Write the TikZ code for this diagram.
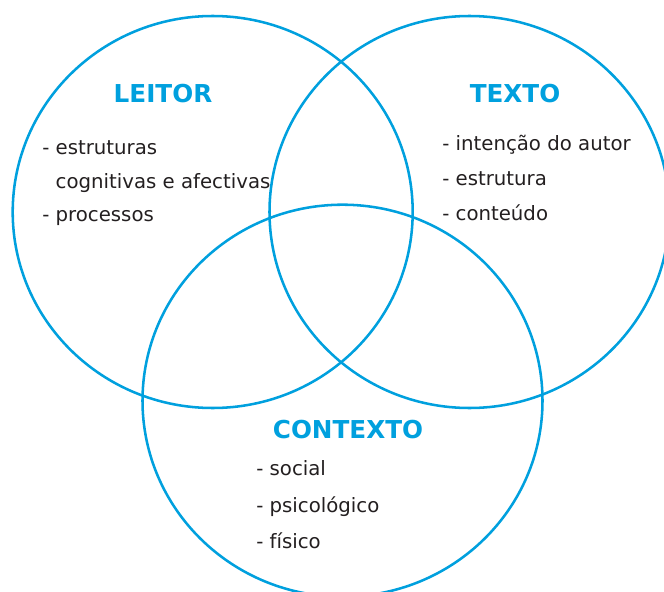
\documentclass[tikz,border=0pt]{standalone}
\usepackage{fontspec}
\setmainfont{DejaVu Sans}
\usetikzlibrary{positioning}
\definecolor{vennBlue}{RGB}{0,160,222}
\definecolor{txtGray}{RGB}{35,31,32}

\begin{document}
\begin{tikzpicture}[x=0.75pt,y=-0.75pt,
  ring/.style={draw=vennBlue,line width=1.9pt},
  ttl/.style={font=\fontsize{18.5}{22}\bfseries,text=vennBlue,inner sep=0pt},
  itm/.style={font=\fontsize{14.8}{17}\selectfont,text=txtGray,anchor=west,inner sep=0pt,
              text height=0.75em,text depth=0.2em}]
\useasboundingbox (0,0) rectangle (664,592);
% ---- the three sets
\coordinate (cL) at (212.7,212);
\coordinate (cT) at (469.5,212);
\coordinate (cC) at (342.5,400.7);
\draw[ring] (cL) ellipse [x radius=200,y radius=196];
\draw[ring] (cT) ellipse [x radius=200,y radius=196];
\draw[ring] (cC) ellipse [x radius=200,y radius=196];
% ---- leitor
\node[ttl] (tLeitor) at (163,94) {LEITOR};
\node[itm] (l1) at (42,151) {- estruturas};
\node[itm] (l2) at (42,185) {\phantom{- }cognitivas e afectivas};
\node[itm] (l3) at (42,218) {- processos};
% ---- texto
\node[ttl] (tTexto) at (515,94) {TEXTO};
\node[itm] (t1) at (442,147) {- intenção do autor};
\node[itm] (t2) at (442,182) {- estrutura};
\node[itm] (t3) at (442,217) {- conteúdo};
% ---- contexto
\node[ttl] (tContexto) at (348,430) {CONTEXTO};
\node[itm] (c1) at (256,472) {- social};
\node[itm] (c2) at (256,509) {- psicológico};
\node[itm] (c3) at (256,545) {- físico};
\end{tikzpicture}
\end{document}
